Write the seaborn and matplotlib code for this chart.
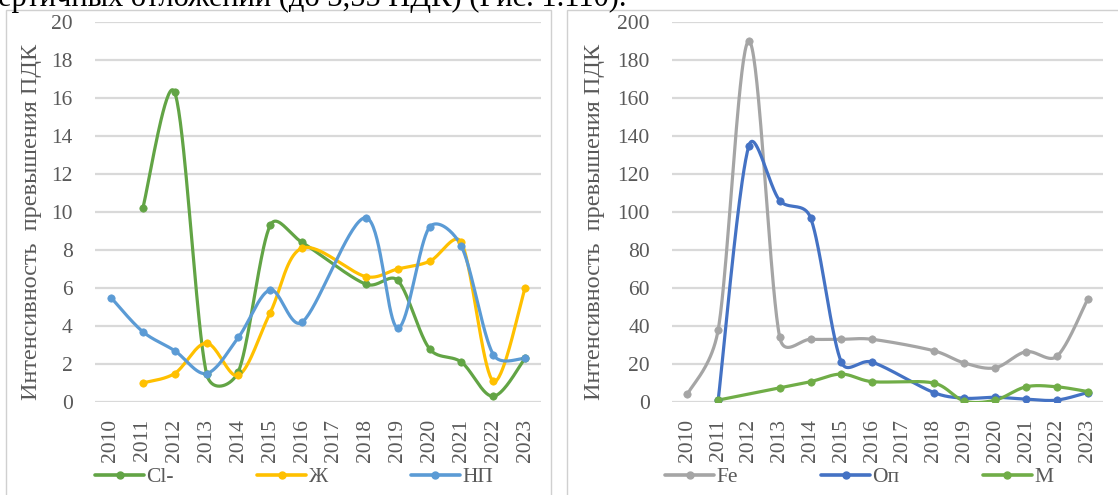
import numpy as np
import pandas as pd
import matplotlib
matplotlib.use("Agg")
import matplotlib.pyplot as plt
from matplotlib.lines import Line2D
from matplotlib.patches import Rectangle
import seaborn as sns

nan = np.nan

years = [str(y) for y in range(2010, 2024)]

# Left chart: Cl-, Ж, НП (2017 not measured)
cl = [nan, 10.2, 16.3, 1.5, 1.6, 9.3, 8.4, nan, 6.2, 6.4, 2.8, 2.1, 0.3, 2.3]
zh = [nan, 1.0, 1.5, 3.1, 1.4, 4.7, 8.1, nan, 6.6, 7.0, 7.4, 8.4, 1.1, 6.0]
np_ = [5.5, 3.7, 2.7, 1.5, 3.4, 5.9, 4.2, nan, 9.7, 3.9, 9.2, 8.2, 2.5, 2.3]

# Right chart: Fe, Оп, М
fe = [4, 38, 190, 34, 33, 33, 33, nan, 27, 20.5, 18, 26.5, 24, 54]
op = [nan, 1, 135, 106, 97, 21, 21, nan, 5, 2, 2.5, 1.5, 1, 5]
m = [nan, 1, nan, 7.5, 10.7, 14.7, 10.7, nan, 10, 0.5, 1, 8, 8, 5.5]

left_series = [("Cl-", cl, "#62A445"), ("Ж", zh, "#FFC000"), ("НП", np_, "#5B9BD5")]
right_series = [("Fe", fe, "#A5A5A5"), ("Оп", op, "#4472C4"), ("М", m, "#70AD47")]

y_label = "Интенсивность  превышения ПДК"
top_text = "ертичных отложений (до 3,55 ПДК) (Рис. 1.110)."

sns.set_theme(style="white")
plt.rcParams["font.family"] = ["Liberation Serif", "DejaVu Serif"]

FS = 15.5
GRID = "#D9D9D9"
TXT = "#595959"


def smooth(xs, ys, sx, sy, n=40):
    """Bezier smoothing of a polyline, skipping missing values.
    Tangents are damped where neighbouring chords differ in length
    (measured in display units given by sx, sy)."""
    xs = np.asarray(xs, float)
    ys = np.asarray(ys, float)
    ok = ~np.isnan(ys)
    P = np.column_stack([xs[ok] * sx, ys[ok] * sy])
    out = []
    k = len(P)
    d = lambda a, b: float(np.hypot(*(b - a)))

    def fac(da, db):
        if da <= 0:
            return 1 / 6
        return (1 / 6) * min(1.0, (2 * db / (da + db))) ** 0.5

    for i in range(k - 1):
        p0 = P[i - 1] if i > 0 else P[i]
        p1 = P[i]
        p2 = P[i + 1]
        p3 = P[i + 2] if i + 2 < k else P[i + 1]
        d01, d12, d23 = d(p0, p1), d(p1, p2), d(p2, p3)
        c1 = p1 + (p2 - p0) * fac(d01, d12)
        c2 = p2 - (p3 - p1) * fac(d23, d12)
        t = np.linspace(0, 1, n)[:, None]
        seg = ((1 - t) ** 3) * p1 + 3 * ((1 - t) ** 2) * t * c1 + 3 * (1 - t) * t ** 2 * c2 + t ** 3 * p2
        out.append(seg if i == 0 else seg[1:])
    C = np.vstack(out)
    return C[:, 0] / sx, C[:, 1] / sy


def draw_panel(ax, series, ymax, ystep, px_w, px_h, label_x):
    pos = np.arange(len(years))
    sx = px_w / len(years)
    sy = px_h / ymax
    for name, vals, color in series:
        cx, cy = smooth(pos, vals, sx, sy)
        df_c = pd.DataFrame({"x": cx, "y": cy})
        sns.lineplot(data=df_c, x="x", y="y", ax=ax, color=color, lw=2.3,
                     sort=False, estimator=None)
        df_p = pd.DataFrame({"x": pos, "y": vals}).dropna()
        sns.scatterplot(data=df_p, x="x", y="y", ax=ax, color=color, s=28,
                        edgecolor=color, linewidth=0.5, zorder=5)
    ax.set_xlim(-0.5, len(years) - 0.5)
    ax.set_ylim(0, ymax)
    ax.set_yticks(np.arange(0, ymax + ystep / 2, ystep))
    ax.set_xticks(pos)
    ax.set_xticklabels(years, rotation=90, fontsize=FS, color=TXT)
    ax.tick_params(axis="y", labelsize=FS, labelcolor=TXT, length=0, pad=16)
    ax.tick_params(axis="x", length=0, pad=12)
    ax.yaxis.grid(True, color=GRID, lw=1.6)
    ax.set_axisbelow(True)
    for s in ax.spines.values():
        s.set_visible(False)
    ax.set_xlabel("")
    ax.set_ylabel(y_label, fontsize=17.5, color=TXT)
    ax.yaxis.set_label_coords(label_x, 0.475)


fig = plt.figure(figsize=(11.18, 4.95), dpi=100)
W, H = 1118, 495

ax1 = fig.add_axes([95 / W, 1 - 402 / H, 446 / W, 380 / H])
ax2 = fig.add_axes([672 / W, 1 - 402 / H, 431 / W, 380 / H])
draw_panel(ax1, left_series, 20, 2, 446, 380, (42 - 95) / 446)
draw_panel(ax2, right_series, 200, 20, 431, 380, (605 - 672) / 431)

# chart frames
for x0, x1 in [(6, 551), (567, 1122)]:
    fig.patches.append(Rectangle((x0 / W, -0.02), (x1 - x0) / W, 1 - 10 / H + 0.02,
                                 transform=fig.transFigure, fill=False,
                                 edgecolor="#D0D0D0", lw=1.0))

# legends
for series, cx in [(left_series, 294 / W), (right_series, 859 / W)]:
    handles = [Line2D([0], [0], color=c, lw=2.6, marker="o", markersize=5) for _, _, c in series]
    labels = [n for n, _, _ in series]
    fig.legend(handles, labels, loc="center", bbox_to_anchor=(cx, 1 - 477 / H),
               ncol=3, frameon=False, fontsize=FS, handlelength=2.3,
               handletextpad=0.1, columnspacing=3.85, labelcolor=TXT)

fig.text(-0.002, 1 - 6 / H, top_text, fontsize=22, va="baseline", ha="left", color="black")

fig.savefig("out.png", dpi=100, facecolor="white")
